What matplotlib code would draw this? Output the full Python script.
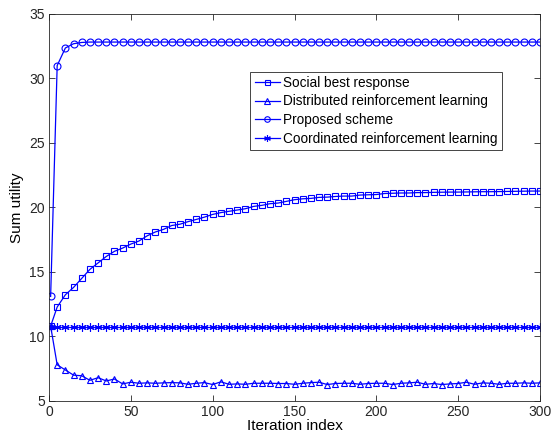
import numpy as np
import matplotlib
matplotlib.use('Agg')
import matplotlib.pyplot as plt

plt.rcParams['font.family'] = ['Liberation Sans', 'DejaVu Sans']

# iteration index of each plotted point
iters = [1] + list(range(5, 301, 5))

social_best = [10.8, 12.28, 13.23, 13.8, 14.5, 15.2, 15.7, 16.2, 16.6, 16.85,
               17.16, 17.4, 17.8, 18.1, 18.3, 18.6, 18.7, 18.9, 19.07, 19.25,
               19.46, 19.6, 19.7, 19.8, 19.9, 20.08, 20.16, 20.29, 20.34, 20.47,
               20.6, 20.67, 20.7, 20.78, 20.8, 20.85, 20.88, 20.88, 20.96, 20.98,
               21.0, 21.08, 21.1, 21.12, 21.12, 21.15, 21.15, 21.17, 21.18, 21.19,
               21.19, 21.2, 21.21, 21.22, 21.22, 21.23, 21.24, 21.25, 21.26, 21.27,
               21.27]

distributed_rl = [10.8, 7.8, 7.4, 7.0, 6.95, 6.6, 6.8, 6.55, 6.7, 6.32,
                  6.45, 6.37, 6.4, 6.37, 6.4, 6.42, 6.4, 6.29, 6.37, 6.42,
                  6.27, 6.48, 6.29, 6.32, 6.29, 6.37, 6.37, 6.37, 6.35, 6.35,
                  6.29, 6.37, 6.42, 6.45, 6.27, 6.35, 6.37, 6.37, 6.29, 6.35,
                  6.37, 6.37, 6.27, 6.37, 6.4, 6.45, 6.29, 6.35, 6.27, 6.32,
                  6.35, 6.45, 6.29, 6.4, 6.37, 6.29, 6.37, 6.37, 6.4, 6.37,
                  6.4]

proposed = [13.1, 31.0, 32.36, 32.69, 32.79] + [32.82] * 56

coordinated_rl = [10.75] * 61

labels = ['Social best response', 'Distributed reinforcement learning',
          'Proposed scheme', 'Coordinated reinforcement learning']

fig = plt.figure(figsize=(5.53, 4.44), dpi=100)
ax = fig.add_axes([0.0886, 0.097, 0.8879, 0.8716])

style = dict(color='blue', linewidth=0.9, markerfacecolor='none', markeredgewidth=0.8)
ax.plot(iters, social_best, marker='s', markersize=4.5, label=labels[0], **style)
ax.plot(iters, distributed_rl, marker='^', markersize=5, label=labels[1], **style)
ax.plot(iters, proposed, marker='o', markersize=5, label=labels[2], **style)
ax.plot(iters, coordinated_rl, marker=(6, 2, 0), markersize=6, label=labels[3], **style)

ax.set_xlim(0, 300)
ax.set_ylim(5, 35)
ax.set_xticks(range(0, 301, 50))
ax.set_yticks(range(5, 36, 5))
ax.set_xlabel('Iteration index', fontsize=11, labelpad=0)
ax.set_ylabel('Sum utility', fontsize=11, labelpad=4)
ax.tick_params(direction='in', top=True, right=True, labelsize=10, colors='#262626',
               length=4, width=0.6, pad=3)
for sp in ax.spines.values():
    sp.set_color('#262626')
    sp.set_linewidth(0.6)

leg = ax.legend(loc='upper right', bbox_to_anchor=(0.922, 0.851), fontsize=9.8,
                fancybox=False, framealpha=1, edgecolor='#262626', markerscale=0.8,
                handlelength=1.85, handletextpad=0.25, borderpad=0.3, labelspacing=0.35,
                borderaxespad=0)
leg.get_frame().set_linewidth(0.6)

fig.savefig('out.png', dpi=100)
